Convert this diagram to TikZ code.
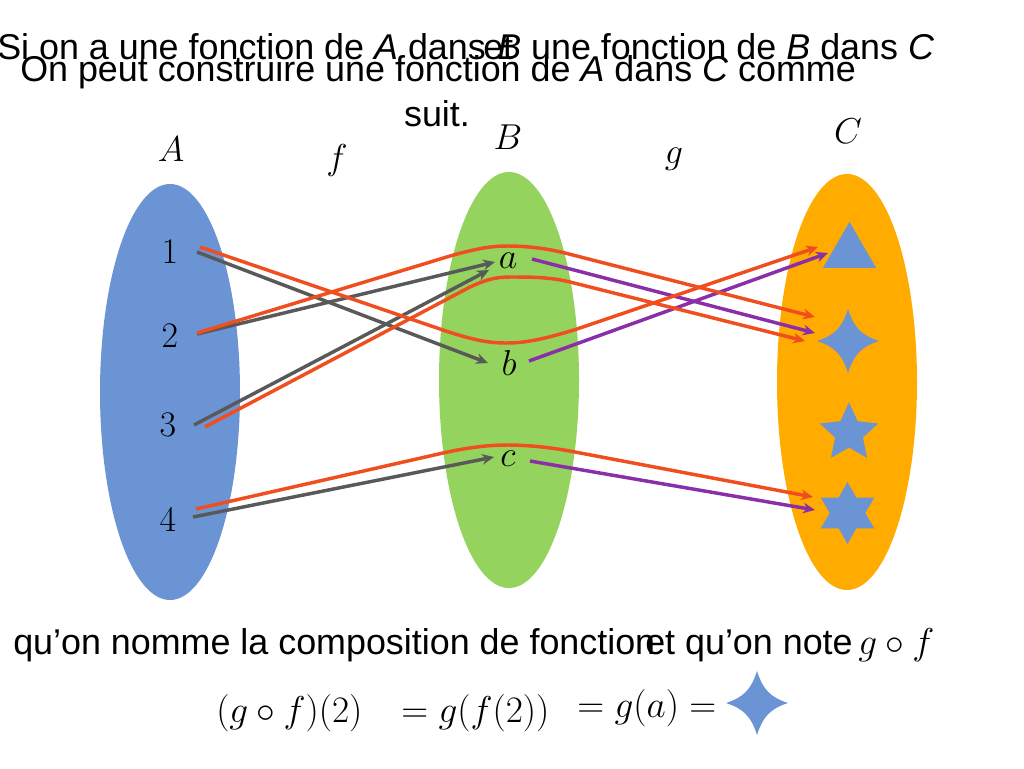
\documentclass[tikz,border=0pt]{standalone}
\usepackage{fix-cm}
\usepackage{fontspec}
\setmainfont{Liberation Sans}
\usetikzlibrary{shapes.geometric, arrows.meta}
\definecolor{bleu}{HTML}{6A94D4}
\definecolor{vert}{HTML}{95D35F}
\definecolor{jaune}{HTML}{FFAB00}
\definecolor{rouge}{HTML}{F04E1E}
\definecolor{gris}{HTML}{595959}
\definecolor{violet}{HTML}{8A2FA8}
\tikzset{
    texte/.style={inner sep=0pt, anchor=base west, font=\fontsize{26.9}{32}\selectfont},
    maths/.style={inner sep=0pt, font=\fontsize{27}{32}\selectfont},
    calcul/.style={inner sep=0pt, anchor=base west, font=\fontsize{28}{34}\selectfont},
    chiffre/.style={inner sep=0pt, font=\fontsize{27}{32}\selectfont},
    patate/.style={ellipse, inner sep=0pt, minimum width=105pt, minimum height=312pt},
    fleche/.style={-{Stealth[length=9pt, width=8pt]}, line width=2.6pt},
    forme/.style={fill=bleu, inner sep=0pt, outer sep=0pt},
    losange/.pic={\fill[bleu] (0,-32) .. controls (6,-13) and (14,-5.5) .. (31,0)
        .. controls (14,5.5) and (6,13) .. (0,32)
        .. controls (-6,13) and (-14,5.5) .. (-31,0)
        .. controls (-14,-5.5) and (-6,-13) .. cycle;}
}
\begin{document}
\begin{tikzpicture}[x=0.75pt, y=-0.75pt]
\useasboundingbox (0,0) rectangle (1024,768);
% Ensembles
\node[patate, fill=bleu] (ensA) at (170,392) {};
\node[patate, fill=vert] (ensB) at (509,380) {};
\node[patate, fill=jaune] (ensC) at (847,382) {};
% Titre
\node[texte] (ligne1) at (-3,59) {Si on a une fonction de \textit{A} dans};
\node[texte] (et1) at (483,59) {et};
\node[texte] (ligne1b) at (497,59) {\textit{B} une fonction de \textit{B} dans \textit{C}};
\node[texte] (ligne2) at (20,81) {On peut construire une fonction de \textit{A} dans \textit{C} comme};
\node[texte, anchor=base] (ligne3) at (437,126) {suit.};
% Noms
\node[maths] (nomA) at (171,149) {$A$};
\node[maths] (nomf) at (337,160) {$f$};
\node[maths] (nomB) at (508,137) {$B$};
\node[maths] (nomg) at (674,159) {$g$};
\node[maths] (nomC) at (848,131) {$C$};
% Elements
\node[chiffre] (un) at (170,252) {$1$};
\node[chiffre] (deux) at (170,336) {$2$};
\node[chiffre] (trois) at (168,425) {$3$};
\node[chiffre] (quatre) at (168,520) {$4$};
\node[chiffre] (a) at (508,261) {$a$};
\node[chiffre] (b) at (509,363) {$b$};
\node[chiffre] (c) at (508,459) {$c$};
% Formes
\node[forme, regular polygon, regular polygon sides=3, minimum size=46pt] (triangle) at (849.5,252.5) {};
\pic (carre) at (848,341) {losange};
\node[forme, star, star points=5, star point ratio=2.1, minimum size=46pt] (etoile) at (849,433) {};
\node[forme, star, star points=6, star point ratio=1.75, minimum size=46.5pt] (six) at (847.5,513) {};
% Extremites
\coordinate (d1) at (197,252);
\coordinate (d2) at (197,334);
\coordinate (d3) at (194,425);
\coordinate (d4) at (193,517);
\coordinate (fa2) at (495,262);
\coordinate (fa3) at (489,270);
\coordinate (fb) at (488,363);
\coordinate (fc) at (494,457);
\coordinate (ga) at (532,259);
\coordinate (gb) at (529,361);
\coordinate (gc) at (530,461);
\coordinate (hcarre) at (815,333);
\coordinate (htri) at (828,253);
\coordinate (hsix) at (815,510);
% f
\draw[fleche, gris] (d1) -- (fb);
\draw[fleche, gris] (d2) -- (fa2);
\draw[fleche, gris] (d3) -- (fa3);
\draw[fleche, gris] (d4) -- (fc);
% g
\draw[fleche, violet] (ga) -- (hcarre);
\draw[fleche, violet] (gb) -- (htri);
\draw[fleche, violet] (gc) -- (hsix);
% g rond f
\draw[fleche, rouge] (200,247) -- (440,329) .. controls (475,341) and (490,343) .. (507,343)
    .. controls (525,343) and (545,339) .. (577,329) -- (818,247);
\draw[fleche, rouge] (197,333) -- (450,256) .. controls (475,249) and (490,246) .. (507,246)
    .. controls (525,246) and (545,248) .. (565,253) -- (815,317);
\draw[fleche, rouge] (205,427) -- (470,287) .. controls (485,280) and (495,277) .. (510,277)
    .. controls (530,277) and (550,277) .. (570,282) -- (805,341);
\draw[fleche, rouge] (196,509) -- (443,453) .. controls (470,447) and (490,445) .. (507,445)
    .. controls (525,445) and (550,447) .. (575,452) -- (813,497);
% Bas
\node[texte] (ligne4) at (13,654) {qu’on nomme la composition de fonction};
\node[texte] (ligne4b) at (645,654) {et qu’on note};
\node[calcul] (rond) at (858,654) {$g\circ f$};
\node[calcul] (calcul1) at (216,722) {$(g\circ f)(2)$};
\node[calcul] (calcul2) at (401,722) {$=g(f(2))$};
\node[calcul] (calcul3) at (577,717) {$=g(a)=$};
\pic (carrebas) at (757,703) {losange};
\end{tikzpicture}
\end{document}
